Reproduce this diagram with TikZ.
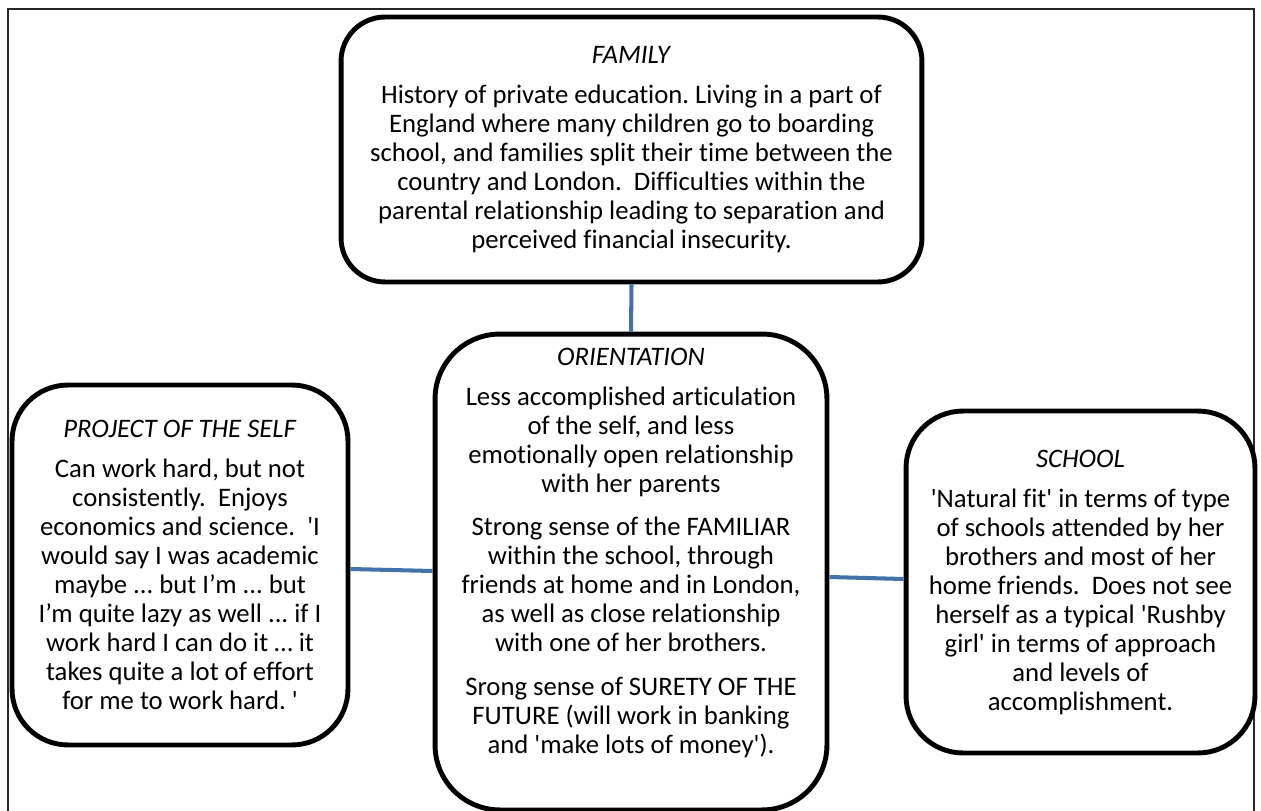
\documentclass[tikz,border=0pt]{standalone}
\usepackage{fontspec}
\usepackage{xcolor}
\usepackage{tikz}
\usetikzlibrary{positioning, calc}
\newfontfamily\calibri{Carlito}[Ligatures={TeXOff,NoCommon}]
\definecolor{linkblue}{RGB}{68,114,168}
\tikzset{
    card/.style={draw=black, line width=2.8pt, fill=white, inner sep=0pt},
    cardtext/.style={anchor=north, inner sep=0pt, align=center,
        font=\calibri\fontsize{15.2}{16.55}\selectfont},
    link/.style={draw=linkblue, line width=2.3pt}
}

\begin{document}
\frenchspacing
\begin{tikzpicture}[x=0.02cm, y=-0.02cm]
    \useasboundingbox (0,0) rectangle (1261,811);

    % Outer frame (open at the bottom)
    \draw[line width=1.1pt, black!85] (8,815) -- (8,9) -- (1254,9) -- (1254,815);

    % The four boxes
    \node[card, minimum width=11.62cm, minimum height=5.3cm, rounded corners=0.88cm] (family) at (631.5,149.5) {};
    \node[card, minimum width=7.84cm, minimum height=9.52cm, rounded corners=1.3cm] (orient) at (631,572) {};
    \node[card, minimum width=6.72cm, minimum height=7.2cm, rounded corners=1.12cm] (project) at (180,565) {};
    \node[card, minimum width=6.98cm, minimum height=6.84cm, rounded corners=1.14cm] (school) at (1080.5,582) {};

    % Connectors
    \draw[link] (family.south) -- (orient.north);
    \draw[link] ($(project.east)+(0,4)$) -- ($(orient.west)+(0,-1)$);
    \draw[link] ($(orient.east)+(0,5)$) -- ($(school.west)+(0,-3)$);

    % Texts
    \node[cardtext] (familytext) at (631.5,46) {\textit{FAMILY}\\[6pt]
        History of private education. Living in a part of\\
        England where many children go to boarding\\
        school, and families split their time between the\\
        country and London.\ \ Difficulties within the\\
        parental relationship leading to separation and\\
        perceived financial insecurity.};
    \node[cardtext] (orienttext) at (631,348) {\textit{ORIENTATION}\\[6pt]
        Less accomplished articulation\\
        of the self, and less\\
        emotionally open relationship\\
        with her parents\\[8pt]
        Strong sense of the FAMILIAR\\
        within the school, through\\
        friends at home and in London,\\
        as well as close relationship\\
        with one of her brothers.\\[8pt]
        Srong sense of SURETY OF THE\\
        FUTURE (will work in banking\\
        and 'make lots of money').};
    \node[cardtext] (projecttext) at (180,420) {\textit{PROJECT OF THE SELF}\\[6pt]
        Can work hard, but not\\
        consistently.\ \ Enjoys\\
        economics and science.\ \ 'I\\
        would say I was academic\\
        maybe ... but I’m ... but\\
        I’m quite lazy as well ... if I\\
        work hard I can do it … it\\
        takes quite a lot of effort\\
        for me to work hard. '};
    \node[cardtext] (schooltext) at (1080.5,450) {\textit{SCHOOL}\\[6pt]
        'Natural fit' in terms of type\\
        of schools attended by her\\
        brothers and most of her\\
        home friends.\ \ Does not see\\
        herself as a typical 'Rushby\\
        girl' in terms of approach\\
        and levels of\\
        accomplishment.};
\end{tikzpicture}
\end{document}
